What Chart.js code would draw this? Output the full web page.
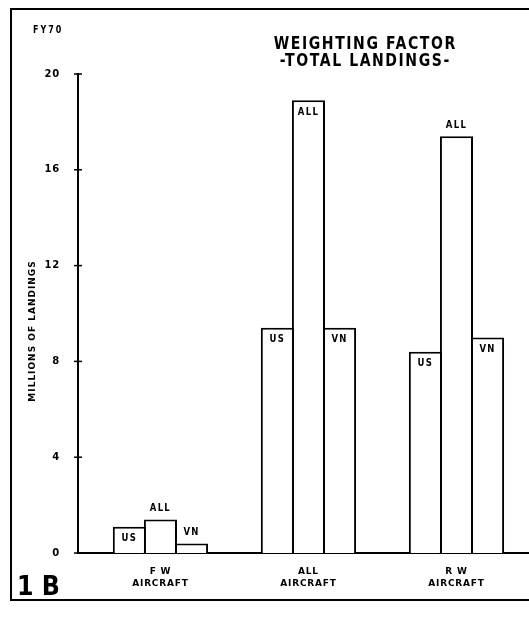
<!DOCTYPE html>
<html>
<head>
<meta charset="utf-8">
<script src="https://cdn.jsdelivr.net/npm/chart.js@4/dist/chart.umd.min.js"></script>
<style>
  html, body { margin: 0; padding: 0; background: #fff; }
  #wrap { position: relative; width: 529px; height: 618px; }
  canvas { display: block; }
</style>
</head>
<body>
<div id="wrap"><canvas id="c" width="529" height="618"></canvas></div>
<script>
// ---- data ----
const categories = [["F W", "AIRCRAFT"], ["ALL", "AIRCRAFT"], ["R W", "AIRCRAFT"]];
const seriesNames = ["US", "ALL", "VN"];
const usValues  = [1.1, 9.4, 8.4];
const allValues = [1.4, 18.9, 17.4];
const vnValues  = [0.4, 9.4, 9.0];
const yTicks = [0, 4, 8, 12, 16, 20];
const titleLines = ["WEIGHTING FACTOR", "-TOTAL LANDINGS-"];
const yTitle = "MILLIONS OF LANDINGS";
const cornerNote = "FY70";
const figureId = "1 B";

// label placement per series (rows) and category (columns) — presentation only
const labelPlacement = [
  ["in", "in", "in"],
  ["out", "in", "out"],
  ["out", "in", "in"]
];

const FAMILY = "'DejaVu Sans', sans-serif";

function toXY(vals) { return vals.map((v, i) => ({ x: i + 1, y: v })); }

const seriesValues = [usValues, allValues, vnValues];
const datasets = seriesNames.map((name, i) => ({
  label: name,
  data: toXY(seriesValues[i]),
  backgroundColor: '#ffffff',
  borderColor: '#000000',
  borderWidth: 2,
  borderSkipped: 'bottom',
  categoryPercentage: 0.63,
  barPercentage: 1.064
}));

function setFont(ctx, size, spacing) {
  ctx.font = 'bold ' + size + 'px ' + FAMILY;
  ctx.letterSpacing = spacing + 'px';
}

function narrowText(ctx, text, x, y, sx) {
  ctx.save();
  ctx.translate(x, y);
  ctx.scale(sx, 1);
  ctx.fillText(text, 0, 0);
  ctx.restore();
}

const decor = {
  id: 'decor',
  beforeDraw(chart) {
    const ctx = chart.ctx;
    ctx.save();
    ctx.fillStyle = '#fff';
    ctx.fillRect(0, 0, chart.width, chart.height);
    ctx.strokeStyle = '#000';
    ctx.lineWidth = 2;
    ctx.beginPath();
    ctx.moveTo(chart.width, 9);
    ctx.lineTo(11, 9);
    ctx.lineTo(11, 600);
    ctx.lineTo(chart.width, 600);
    ctx.stroke();
    ctx.restore();
    ctx.letterSpacing = '0.8px';
  },
  afterDraw(chart) {
    const ctx = chart.ctx;
    const a = chart.chartArea;
    const ys = chart.scales.y;
    ctx.save();
    ctx.fillStyle = '#000';
    ctx.strokeStyle = '#000';
    ctx.lineWidth = 1.5;
    yTicks.forEach(t => {
      const py = ys.getPixelForValue(t);
      ctx.beginPath();
      ctx.moveTo(a.left - 4, py);
      ctx.lineTo(a.left + 4, py);
      ctx.stroke();
    });
    // title
    ctx.textAlign = 'center';
    ctx.textBaseline = 'middle';
    setFont(ctx, 18, 2);
    const tx = a.left + (a.right - a.left) * 0.637;
    narrowText(ctx, titleLines[0], tx, 44, 0.78);
    narrowText(ctx, titleLines[1], tx, 61, 0.78);
    // corner note
    setFont(ctx, 10, 2.5);
    ctx.textAlign = 'left';
    narrowText(ctx, cornerNote, 33, 30, 0.8);
    // figure id
    ctx.font = 'bold 27px ' + FAMILY;
    ctx.letterSpacing = '0px';
    ctx.textBaseline = 'alphabetic';
    narrowText(ctx, figureId, 17, 595, 0.88);
    // y title
    ctx.save();
    ctx.translate(33, 331);
    ctx.rotate(-Math.PI / 2);
    ctx.textAlign = 'center';
    ctx.textBaseline = 'middle';
    setFont(ctx, 9, 1);
    ctx.fillText(yTitle, 0, 0);
    ctx.restore();
    // bar labels
    setFont(ctx, 10, 1.5);
    ctx.textAlign = 'center';
    ctx.textBaseline = 'middle';
    chart.data.datasets.forEach((ds, di) => {
      const meta = chart.getDatasetMeta(di);
      meta.data.forEach((bar, i) => {
        const place = labelPlacement[di][i];
        const y = place === 'in' ? bar.y + 12 : bar.y - 11;
        narrowText(ctx, ds.label, bar.x, y, 0.85);
      });
    });
    ctx.restore();
    ctx.letterSpacing = '0px';
  }
};

new Chart(document.getElementById('c'), {
  type: 'bar',
  data: { datasets },
  options: {
    responsive: false,
    animation: false,
    devicePixelRatio: 1,
    layout: { padding: { top: 74, left: 0, right: 0, bottom: 0 } },
    plugins: { legend: { display: false }, tooltip: { enabled: false }, title: { display: false } },
    scales: {
      x: {
        type: 'linear',
        min: 0.443,
        max: 3.49,
        offset: false,
        afterBuildTicks(scale) { scale.ticks = categories.map((c, i) => ({ value: i + 1 })); },
        afterFit(scale) { scale.height = 65; },
        ticks: {
          callback: (v) => categories[Math.round(v) - 1],
          color: '#000',
          font: { family: FAMILY, size: 9, weight: 'bold', lineHeight: 1.3 },
          padding: 13,
          maxRotation: 0,
          autoSkip: false
        },
        grid: { display: false, drawTicks: false },
        border: { display: true, color: '#000', width: 2 }
      },
      y: {
        min: 0,
        max: 20,
        afterBuildTicks(scale) { scale.ticks = yTicks.map(v => ({ value: v })); },
        afterFit(scale) { scale.width = 78; },
        ticks: {
          color: '#000',
          font: { family: FAMILY, size: 10, weight: 'bold' },
          padding: 18
        },
        grid: { display: false, drawTicks: false },
        border: { display: true, color: '#000', width: 2 }
      }
    }
  },
  plugins: [decor]
});
</script>
</body>
</html>
